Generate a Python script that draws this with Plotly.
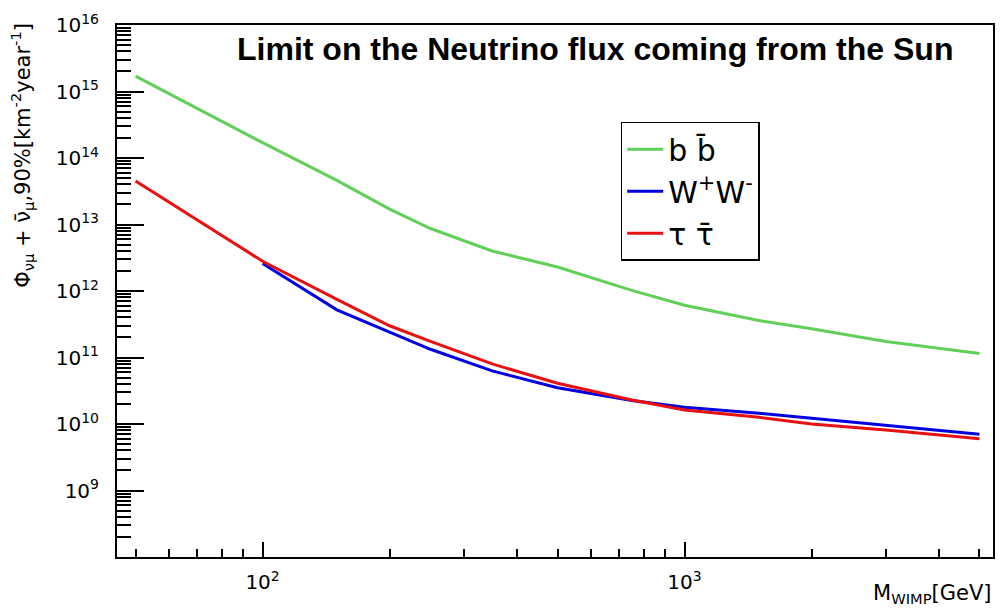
import plotly.graph_objects as go

# WIMP mass points (GeV)
mass = [50, 100, 150, 200, 250, 350, 500, 750, 1000, 1500, 2000, 3000, 5000]
mass_ww = mass[1:]

# 90% C.L. upper limits on the muon-neutrino flux from the Sun [km^-2 year^-1]
flux_bb = [1.7e15, 1.7e14, 4.6e13, 1.7e13, 8.7e12, 4.0e12, 2.3e12, 1.02e12,
           6.1e11, 3.6e11, 2.7e11, 1.74e11, 1.15e11]
flux_ww = [2.6e12, 5.2e11, 2.4e11, 1.33e11, 6.3e10, 3.5e10, 2.26e10,
           1.78e10, 1.45e10, 1.22e10, 9.6e9, 7.0e9]
flux_tt = [4.5e13, 2.8e12, 7.5e11, 3.0e11, 1.75e11, 8.0e10, 4.1e10, 2.3e10,
           1.63e10, 1.26e10, 1.0e10, 8.1e9, 6.0e9]

y_ticks = [1e9, 1e10, 1e11, 1e12, 1e13, 1e14, 1e15, 1e16]
y_labels = ["10<sup>9</sup>", "10<sup>10</sup>", "10<sup>11</sup>", "10<sup>12</sup>",
            "10<sup>13</sup>", "10<sup>14</sup>", "10<sup>15</sup>", "10<sup>16</sup>"]
x_ticks = [100, 1000]
x_labels = ["10<sup>2</sup>", "10<sup>3</sup>"]

FONT = "DejaVu Sans"

fig = go.Figure()
fig.add_trace(go.Scatter(x=mass, y=flux_bb, mode="lines", name="b b\u0304",
                         line=dict(color="#62cf58", width=3), legendgroup="bb"))
fig.add_trace(go.Scatter(x=mass_ww, y=flux_ww, mode="lines", name="W<sup>+</sup>W<sup>-</sup>",
                         line=dict(color="#0000e0", width=3), legendgroup="ww"))
fig.add_trace(go.Scatter(x=mass, y=flux_tt, mode="lines", name="\u03c4 \u03c4\u0304",
                         line=dict(color="#e81010", width=3), legendgroup="tt"))

axis_common = dict(
    showline=True, linecolor="black", linewidth=2, mirror=True,
    showgrid=False, zeroline=False,
    ticks="inside", tickcolor="black", tickwidth=1.5,
    tickfont=dict(family=FONT, size=20, color="black"),
)

fig.update_xaxes(type="log", range=[1.655, 3.731], tickvals=x_ticks, ticktext=x_labels,
                 ticklen=15,
                 minor=dict(ticks="inside", ticklen=8, tickcolor="black", tickwidth=1.5,
                            dtick="D1", showgrid=False),
                 ticklabelstandoff=6, **axis_common)
fig.update_yaxes(type="log", range=[8.0, 16.0], tickvals=y_ticks, ticktext=y_labels,
                 ticklen=27,
                 minor=dict(ticks="inside", ticklen=14, tickcolor="black", tickwidth=1.5,
                            dtick="D1", showgrid=False),
                 ticklabelstandoff=12, **axis_common)

fig.update_layout(
    width=1006, height=613,
    margin=dict(l=117, r=11, t=17, b=56),
    paper_bgcolor="white", plot_bgcolor="white",
    showlegend=True,
    legend=dict(x=0.575, y=0.818, xanchor="left", yanchor="top",
                bordercolor="black", borderwidth=1.5, bgcolor="white",
                font=dict(family=FONT, size=30, color="black"),
                tracegroupgap=0, itemwidth=36),
    annotations=[
        dict(text="<b>Limit on the Neutrino flux coming from the Sun</b>",
             xref="paper", yref="paper", x=0.546, y=0.954, xanchor="center", yanchor="middle",
             showarrow=False, font=dict(family="Liberation Sans", size=32, color="black")),
        dict(text="\u03a6<sub>\u03bd\u03bc</sub> + \u03bd\u0304<sub>\u03bc</sub>,90%[km<sup>-2</sup>year<sup>-1</sup>]",
             xref="paper", yref="paper", x=-0.108, y=0.755, xanchor="center", yanchor="middle",
             textangle=-90, showarrow=False,
             font=dict(family=FONT, size=21, color="black")),
        dict(text="M<sub>WIMP</sub>[GeV]",
             xref="paper", yref="paper", x=1.0, y=-0.070, xanchor="right", yanchor="middle",
             showarrow=False, font=dict(family=FONT, size=21, color="black")),
    ],
)

fig.write_html("out.html")
